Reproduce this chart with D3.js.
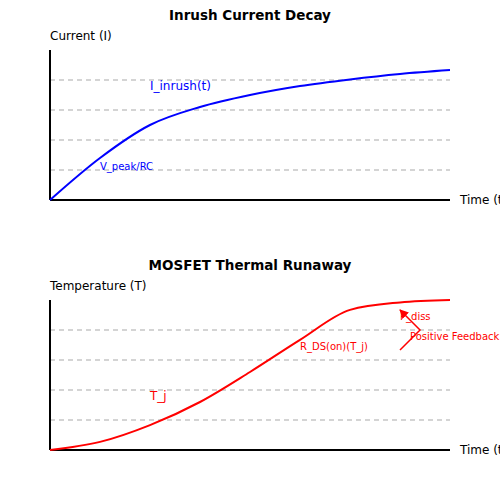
<!DOCTYPE html><html><head><script src="https://cdn.jsdelivr.net/npm/d3@7"></script>
<style>body{margin:0;background:#fff}text{font-family:"DejaVu Sans",sans-serif}</style></head><body>
<script>
const timeSteps=[0,1.25,2.5,3.75,5,6.25,7.5,8.75,10];
const inrush=[0,1.4,2.5,3.1,3.5,3.8,4.02,4.2,4.33];
const tempX=[0,1.25,2.5,3.75,5,6.25,7.5,8.75,10];
const tempY=[0,0.27,0.83,1.6,2.6,3.67,4.67,4.92,5];
const gridVals=[1,2,3,4];
const svg=d3.select("body").append("svg").attr("width",500).attr("height",500);
const x=d3.scaleLinear().domain([0,10]).range([50,450]);
function panel(top,title,ylab){
  const y=d3.scaleLinear().domain([0,5]).range([top+150,top]);
  const g=svg.append("g");
  g.selectAll(".gr").data(gridVals).enter().append("line").attr("x1",50).attr("x2",450)
   .attr("y1",d=>y(d)).attr("y2",d=>y(d)).attr("stroke","#aaa").attr("stroke-dasharray","5,4").attr("stroke-width",1.2);
  g.append("line").attr("x1",50).attr("x2",50).attr("y1",top).attr("y2",top+150).attr("stroke","#000").attr("stroke-width",2);
  g.append("line").attr("x1",50).attr("x2",450).attr("y1",top+150).attr("y2",top+150).attr("stroke","#000").attr("stroke-width",2);
  g.append("text").attr("x",250).attr("y",top-30).attr("text-anchor","middle").attr("font-size",13.5).attr("font-weight","bold").text(title);
  g.append("text").attr("x",50).attr("y",top-10).attr("font-size",12).text(ylab);
  g.append("text").attr("x",460).attr("y",top+150).attr("dy","0.35em").attr("font-size",12).text("Time (t)");
  return y;
}
const y1=panel(50,"Inrush Current Decay","Current (I)");
svg.append("path").attr("d",d3.line().x((d,i)=>x(timeSteps[i])).y(d=>y1(d)).curve(d3.curveMonotoneX)(inrush))
 .attr("fill","none").attr("stroke","blue").attr("stroke-width",2);
svg.append("text").attr("x",150).attr("y",90).attr("font-size",12).attr("fill","blue").text("I_inrush(t)");
svg.append("text").attr("x",100).attr("y",170).attr("font-size",10).attr("fill","blue").text("V_peak/RC");
const y2=panel(300,"MOSFET Thermal Runaway","Temperature (T)");
svg.append("path").attr("d",d3.line().x((d,i)=>x(tempX[i])).y(d=>y2(d)).curve(d3.curveMonotoneX)(tempY))
 .attr("fill","none").attr("stroke","red").attr("stroke-width",2);
svg.append("text").attr("x",150).attr("y",400).attr("font-size",12).attr("fill","red").text("T_j");
svg.append("text").attr("x",300).attr("y",350).attr("font-size",10).attr("fill","red").text("R_DS(on)(T_j)");
svg.append("text").attr("x",400).attr("y",320).attr("font-size",10).attr("fill","red").text("P_diss");
svg.append("text").attr("x",410).attr("y",340).attr("font-size",10).attr("fill","red").text("Positive Feedback");
svg.append("defs").append("marker").attr("id","ah").attr("viewBox","0 0 10 10").attr("refX",9).attr("refY",5)
 .attr("markerWidth",6).attr("markerHeight",6).attr("orient","auto").append("path").attr("d","M0,0L10,5L0,10z").attr("fill","red");
svg.append("path").attr("d","M400,350L420,330L400,310").attr("fill","none").attr("stroke","red").attr("stroke-width",1.5).attr("marker-end","url(#ah)");
</script></body></html>
